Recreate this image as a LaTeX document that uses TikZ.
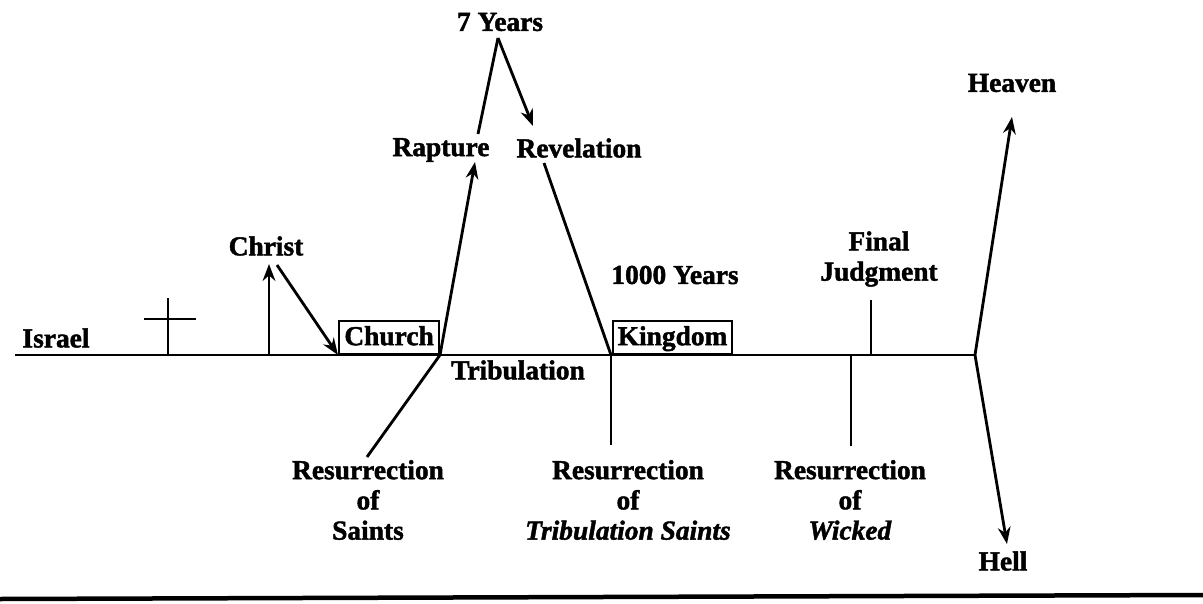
\documentclass[tikz,border=0pt]{standalone}
\usepackage{fontspec}
\setmainfont{Liberation Serif}[BoldFeatures={FakeBold=1.6}, BoldItalicFeatures={FakeBold=1.6}]
\usetikzlibrary{arrows.meta}
\begin{document}
\begin{tikzpicture}[x=0.025cm, y=-0.025cm,
  lbl/.style={font=\bfseries\fontsize{19.5}{21.5}\selectfont, inner sep=0pt, align=center},
  ln/.style={line width=2pt},
  arr/.style={line width=2pt, -{Stealth[length=12pt, width=9pt]}},
  era/.style={draw, line width=1.5pt, inner sep=0pt, minimum height=0.825cm, text height=13pt, text depth=2pt}]
\useasboundingbox (0,0) rectangle (1203,604);
% labels
\node[lbl] (israel) at (56,338) {Israel};
\node[lbl] (christ) at (266,246) {Christ};
\node[lbl] (trib) at (518,370) {Tribulation};
\node[lbl] (rapture) at (441,150) {Rapture};
\node[lbl] (revel) at (579,148) {Revelation};
\node[lbl] (seven) at (500,22) {7 Years};
\node[lbl] (thousand) at (675,275) {1000 Years};
\node[lbl] (final) at (879,259) {Final\\Judgment};
\node[lbl] (heaven) at (1012,83) {Heaven};
\node[lbl] (hell) at (1003,561) {Hell};
\node[lbl] (rsaints) at (368,500) {Resurrection\\of\\Saints};
\node[lbl] (rtrib) at (628,500) {Resurrection\\of\\\textit{Tribulation Saints}};
\node[lbl] (rwicked) at (850,500) {Resurrection\\of\\\textit{Wicked}};
\node[era, lbl, minimum width=2.5cm, anchor=south west] (church) at (338,355) {Church};
\node[era, lbl, minimum width=2.975cm, anchor=south west] (kingdom) at (612,355) {Kingdom};
% points on the line
\coordinate (start) at (15,355);
\coordinate (cross) at (168,355);
\coordinate (birth) at (269,355);
\coordinate (j1) at (440,355);
\coordinate (j2) at (611,355);
\coordinate (j3) at (871,355);
\coordinate (j3b) at (851,355);
\coordinate (j4) at (975,355);
\coordinate (apex) at (498,38);
% time line
\draw[ln] (start) -- (j4);
\draw[ln] (cross) -- (168,298) (144,319) -- (196,319);
\draw[arr] (birth) -- (269,264);
\draw[arr] (277,265) -- (church.south west);
\draw[ln] (j1) -- (367,457);
\draw[arr] (j1) -- (475,162);
\draw[ln] (478,134) -- (apex);
\draw[arr] (apex) -- (533,126);
\draw[ln] (544,163) -- (j2);
\draw[ln] (j2) -- (611,445);
\draw[ln] (j3) -- (871,300);
\draw[ln] (j3b) -- (851,446);
\draw[arr] (j4) -- (1012,117);
\draw[arr] (j4) -- (1007,544);
% bottom rule
\draw[line width=3.2pt] (0,599) -- (1203,595);
\end{tikzpicture}
\end{document}
